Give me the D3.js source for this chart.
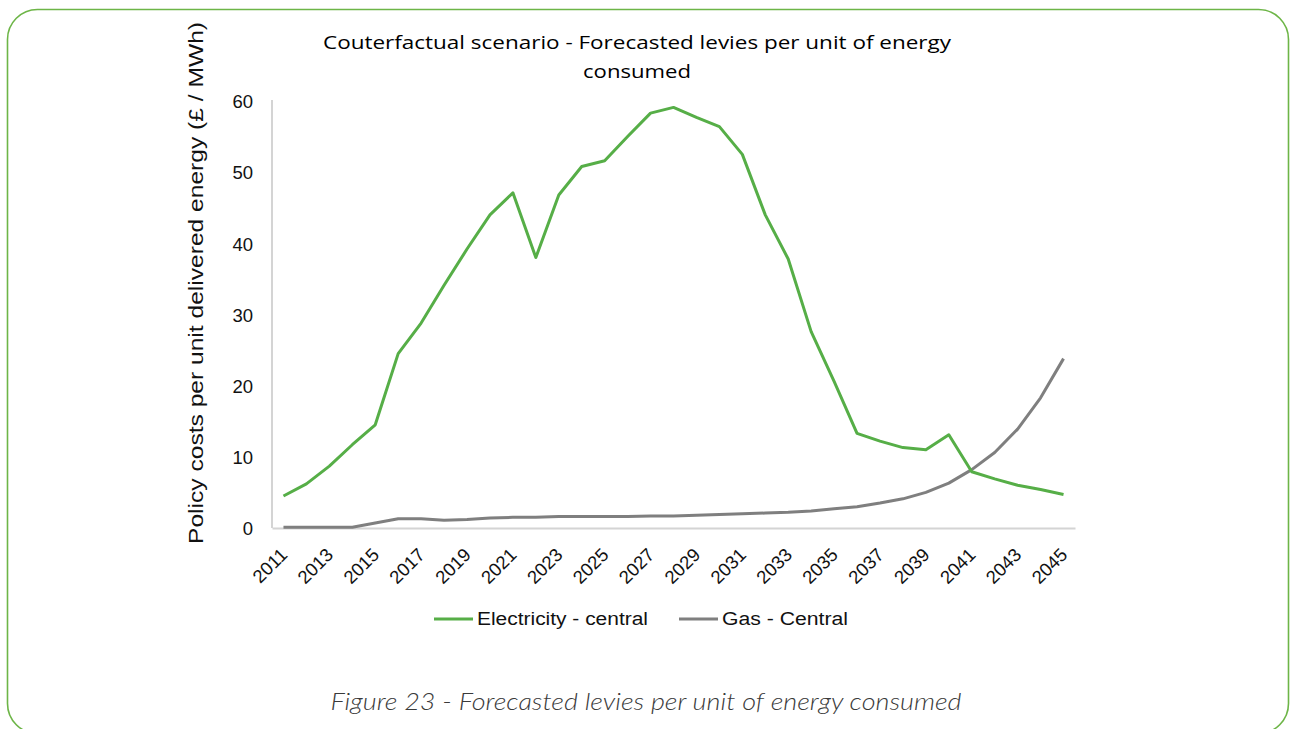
<!DOCTYPE html>
<html>
<head>
<meta charset="utf-8">
<script src="https://cdn.jsdelivr.net/npm/d3@7"></script>
<style>
  html, body { margin: 0; padding: 0; background: #fff; }
  svg { display: block; }
</style>
</head>
<body>
<svg id="chart" width="1290" height="729"></svg>
<script>
// chart data
var years = d3.range(2011, 2046).map(String);
var electricity = [4.5, 6.2, 8.7, 11.7, 14.5, 24.5, 28.8, 34.1, 39.2, 44.0, 47.1, 38.0, 46.8, 50.8, 51.6, 55.0, 58.3, 59.1, 57.7, 56.4, 52.5, 44.0, 37.8, 27.6, 20.6, 13.3, 12.2, 11.3, 11.0, 13.1, 7.9, 6.9, 6.0, 5.4, 4.7];
var gas = [0.1, 0.1, 0.1, 0.1, 0.7, 1.3, 1.3, 1.1, 1.2, 1.4, 1.5, 1.5, 1.6, 1.6, 1.6, 1.6, 1.7, 1.7, 1.8, 1.9, 2.0, 2.1, 2.2, 2.4, 2.7, 3.0, 3.5, 4.1, 5.0, 6.3, 8.2, 10.6, 13.9, 18.3, 23.8];
var yTicks = [0, 10, 20, 30, 40, 50, 60];
var seriesNames = ['Electricity - central', 'Gas - Central'];

var GREEN = '#56ae47';
var GREY = '#7f7f7f';

var svg = d3.select('#chart');

// rounded frame
svg.append('rect')
  .attr('x', 7.5).attr('y', 9.5)
  .attr('width', 1281).attr('height', 724)
  .attr('rx', 30).attr('ry', 30)
  .attr('fill', 'none')
  .attr('stroke', '#6db547')
  .attr('stroke-width', 1.6);

var plot = { left: 272, right: 1075, top: 101, bottom: 528 };

var x = d3.scaleBand().domain(years).range([plot.left, plot.right]);
var y = d3.scaleLinear().domain([0, 60]).range([plot.bottom, plot.top]);

// title
svg.append('text')
  .attr('x', 637).attr('y', 49)
  .attr('text-anchor', 'middle')
  .attr('font-family', 'Open Sans, sans-serif')
  .attr('font-size', 19)
  .attr('textLength', 628)
  .attr('lengthAdjust', 'spacingAndGlyphs')
  .attr('fill', '#000')
  .text('Couterfactual scenario - Forecasted levies per unit of energy');
svg.append('text')
  .attr('x', 637).attr('y', 78)
  .attr('text-anchor', 'middle')
  .attr('font-family', 'Open Sans, sans-serif')
  .attr('font-size', 19)
  .attr('textLength', 108)
  .attr('lengthAdjust', 'spacingAndGlyphs')
  .attr('fill', '#000')
  .text('consumed');

// y axis (labels only, no line)
var yAxis = d3.axisLeft(y).tickValues(yTicks).tickSize(0).tickPadding(0);
var gy = svg.append('g')
  .attr('transform', 'translate(' + (plot.left - 19) + ',0)')
  .call(yAxis);
gy.select('.domain').remove();
gy.selectAll('text')
  .attr('font-family', 'Liberation Sans, Arial, sans-serif')
  .attr('font-size', 18.5)
  .attr('fill', '#111')
  .attr('dy', '0.36em');

// left axis line
svg.append('line')
  .attr('x1', plot.left).attr('x2', plot.left)
  .attr('y1', plot.top - 1).attr('y2', plot.bottom)
  .attr('stroke', '#d4d4d4').attr('stroke-width', 2);

// x axis
var xAxis = d3.axisBottom(x)
  .tickValues(years.filter(function(d, i) { return i % 2 === 0; }))
  .tickSize(0).tickPadding(0);
var gx = svg.append('g')
  .attr('transform', 'translate(0,' + plot.bottom + ')')
  .call(xAxis);
gx.select('.domain')
  .attr('stroke', '#d4d4d4').attr('stroke-width', 2);
gx.selectAll('text')
  .attr('font-family', 'Liberation Sans, Arial, sans-serif')
  .attr('font-size', 18.5)
  .attr('fill', '#111')
  .attr('text-anchor', 'end')
  .attr('y', 0)
  .attr('dy', null)
  .attr('transform', 'translate(5,28) rotate(-45)');

// y axis title
svg.append('text')
  .attr('transform', 'translate(203,283) rotate(-90)')
  .attr('text-anchor', 'middle')
  .attr('font-family', 'Liberation Sans, Arial, sans-serif')
  .attr('font-size', 20)
  .attr('textLength', 522)
  .attr('lengthAdjust', 'spacingAndGlyphs')
  .attr('fill', '#111')
  .text('Policy costs per unit delivered energy (\u00a3 / MWh)');

// lines
var line = d3.line()
  .x(function(d, i) { return x(years[i]) + x.bandwidth() / 2; })
  .y(function(d) { return y(d); });

svg.append('path')
  .datum(gas)
  .attr('d', line)
  .attr('fill', 'none')
  .attr('stroke', GREY)
  .attr('stroke-width', 3)
  .attr('stroke-linejoin', 'round');

svg.append('path')
  .datum(electricity)
  .attr('d', line)
  .attr('fill', 'none')
  .attr('stroke', GREEN)
  .attr('stroke-width', 3)
  .attr('stroke-linejoin', 'round');

// legend
var legendItems = [
  { name: seriesNames[0], color: GREEN, x: 434, w: 171 },
  { name: seriesNames[1], color: GREY, x: 679, w: 126 }
];
var lg = svg.append('g').selectAll('g')
  .data(legendItems)
  .enter().append('g')
  .attr('transform', function(d) { return 'translate(' + d.x + ',619)'; });
lg.append('line')
  .attr('x1', 0).attr('x2', 39)
  .attr('stroke', function(d) { return d.color; })
  .attr('stroke-width', 3);
lg.append('text')
  .attr('x', 43)
  .attr('dy', '0.36em')
  .attr('font-family', 'Liberation Sans, Arial, sans-serif')
  .attr('font-size', 18)
  .attr('textLength', function(d) { return d.w; })
  .attr('lengthAdjust', 'spacingAndGlyphs')
  .attr('fill', '#111')
  .text(function(d) { return d.name; });

// caption
svg.append('text')
  .attr('x', 646).attr('y', 710)
  .attr('text-anchor', 'middle')
  .attr('font-family', 'Lato, sans-serif')
  .attr('font-style', 'italic')
  .attr('font-weight', 300)
  .attr('font-size', 24)
  .attr('textLength', 631)
  .attr('lengthAdjust', 'spacingAndGlyphs')
  .attr('fill', '#3a3a3a')
  .text('Figure 23 - Forecasted levies per unit of energy consumed');
</script>
</body>
</html>
